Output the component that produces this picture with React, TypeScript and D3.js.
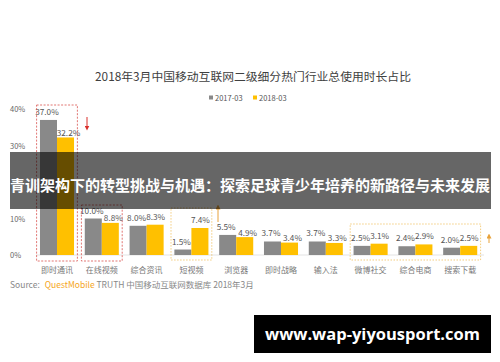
import React from "react";
import * as d3 from "d3";

const categories = ["即时通讯", "在线视频", "综合资讯", "短视频", "浏览器", "即时战略", "输入法", "微博社交", "综合电商", "搜索下载"];
const series = ["2017-03", "2018-03"];
const values2017 = [37.0, 10.0, 8.0, 1.5, 5.5, 3.7, 3.7, 2.5, 2.4, 2.0];
const values2018 = [32.2, 8.8, 8.3, 7.4, 4.9, 3.4, 3.3, 3.1, 2.9, 2.5];
const yTicks = [0, 10, 30, 40];
const colors = ["#898989", "#FFC000"];

const title = "2018年3月中国移动互联网二级细分热门行业总使用时长占比";
const banner = "青训架构下的转型挑战与机遇：探索足球青少年培养的新路径与未来发展";
const watermark = "www.wap-yiyousport.com";

const W = 500;
const H = 362;
const FONT = "'Noto Sans CJK SC', 'Noto Sans', sans-serif";

export default function App() {
  const x = d3.scaleBand<string>().domain(categories).range([34.6, 482.6]);
  const inner = d3
    .scaleBand<string>()
    .domain(series)
    .range([x.bandwidth() * 0.12, x.bandwidth() * 0.88]);
  const y = d3.scaleLinear().domain([0, 40]).range([255, 109]);
  const rows = [values2017, values2018];

  // highlight boxes by category index range
  const boxX = (a: number, b: number) => [
    (x(categories[a]) ?? 0) + 2,
    (x(categories[b]) ?? 0) + x.bandwidth() - 2,
  ];
  const redBoxes = [
    { r: boxX(0, 0), top: 105 },
    { r: boxX(1, 1), top: 205 },
  ];
  const goldBoxes = [
    { r: boxX(3, 3), top: 208 },
    { r: boxX(7, 9), top: 224 },
  ];

  return (
    <svg
      width={W}
      height={H}
      style={{ position: "absolute", left: 0, top: 0, background: "#fff" }}
      fontFamily={FONT}
    >
      <defs>
        <marker id="ar" viewBox="0 0 6 6" refX="3" refY="3" markerWidth="5" markerHeight="5" orient="auto">
          <path d="M0,0 L6,3 L0,6 Z" fill="#d9302c" />
        </marker>
        <marker id="ag" viewBox="0 0 6 6" refX="3" refY="3" markerWidth="5" markerHeight="5" orient="auto">
          <path d="M0,0 L6,3 L0,6 Z" fill="#e8a23a" />
        </marker>
      </defs>
      <rect width={W} height={H} fill="#fff" />

      <text x={253} y={81} textAnchor="middle" fontSize={11.8} fill="#404040">
        {title}
      </text>

      {/* legend */}
      {series.map((s, i) => (
        <g key={s} transform={`translate(${209 + i * 44},${98})`}>
          <rect x={0} y={-2.5} width={4} height={4} fill={colors[i]} />
          <text x={6} y={2.5} fontSize={7.5} fill="#555">
            {s}
          </text>
        </g>
      ))}

      {/* y ticks */}
      {yTicks.map((t) => (
        <text key={t} x={10} y={y(t) + 3} fontSize={7.5} fill="#666">
          {t}%
        </text>
      ))}

      <line x1={36} x2={484} y1={y(0)} y2={y(0)} stroke="#e3e3e3" />

      {/* bars */}
      {categories.map((c, ci) => (
        <g key={c} transform={`translate(${x(c)},0)`}>
          {series.map((s, si) => {
            const v = rows[si][ci];
            const lower = si === 1 && rows[1][ci] < rows[0][ci];
            return (
              <g key={s}>
                <rect
                  x={inner(s)}
                  y={y(v)}
                  width={inner.bandwidth()}
                  height={y(0) - y(v)}
                  fill={colors[si]}
                />
                <text
                  x={(inner(s) ?? 0) + inner.bandwidth() / 2 + (si === 0 ? -1.5 : lower ? 3 : 0.5)}
                  y={y(v) - (lower ? 1.5 : 5)}
                  textAnchor="middle"
                  fontSize={8.2}
                  fill="#555"
                >
                  {v.toFixed(1)}%
                </text>
              </g>
            );
          })}
          <text
            x={x.bandwidth() / 2}
            y={273}
            textAnchor="middle"
            fontSize={8}
            fill="#777"
          >
            {c}
          </text>
        </g>
      ))}

      {/* highlight boxes */}
      {redBoxes.map((b, i) => (
        <rect
          key={"r" + i}
          x={b.r[0]}
          y={b.top}
          width={b.r[1] - b.r[0]}
          height={261 - b.top}
          fill="none"
          stroke="#d9534f"
          strokeWidth={0.8}
          strokeDasharray="2,1.5"
        />
      ))}
      {goldBoxes.map((b, i) => (
        <rect
          key={"g" + i}
          x={b.r[0]}
          y={b.top}
          width={b.r[1] - b.r[0]}
          height={260 - b.top}
          fill="none"
          stroke="#f0c060"
          strokeWidth={0.8}
          strokeDasharray="1.5,1.5"
        />
      ))}

      {/* arrows */}
      <line x1={87} y1={117} x2={87} y2={128} stroke="#d9302c" strokeWidth={1} markerEnd="url(#ar)" />
      <line x1={218} y1={222} x2={218} y2={207} stroke="#e8a23a" strokeWidth={1} markerEnd="url(#ag)" />
      <line x1={489} y1={243} x2={489} y2={236} stroke="#e8a23a" strokeWidth={1} markerEnd="url(#ag)" />

      {/* source */}
      <text x={10} y={288} fontSize={8.5} fill="#888">
        Source:
        <tspan dx={5} fill="#f5a623">QuestMobile</tspan>
        <tspan dx={2} fill="#888">TRUTH 中国移动互联网数据库 2018年3月</tspan>
      </text>

      {/* banner overlay */}
      <rect x={10} y={152} width={481} height={57} fill="#000" fillOpacity={0.6} />
      <text x={250} y={191} textAnchor="middle" fontSize={15} fontWeight={700} fill="#fff">
        {banner}
      </text>

      {/* watermark */}
      <rect x={254} y={315} width={237} height={38} fill="#000" />
      <text
        x={372.5}
        y={340}
        textAnchor="middle"
        fontSize={16.5}
        fontWeight={700}
        fill="#fff"
        fontFamily="'Open Sans', sans-serif"
      >
        {watermark}
      </text>
    </svg>
  );
}
